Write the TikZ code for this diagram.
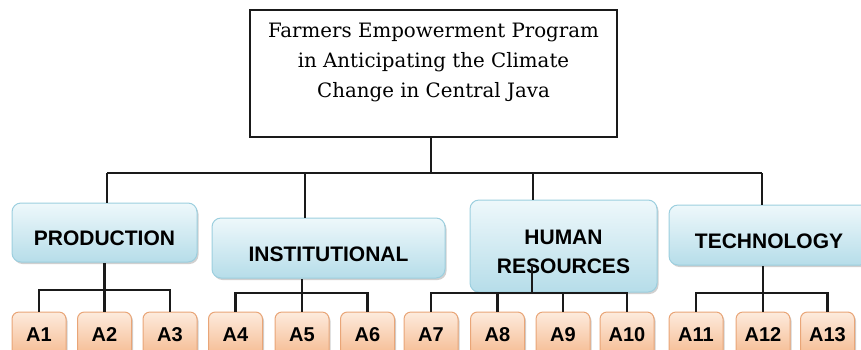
\documentclass[tikz,border=0pt]{standalone}
\usepackage{fontspec}
\setsansfont{Liberation Sans}
\newfontfamily\topfont{DejaVu Serif}
\usetikzlibrary{shadows,calc}
\definecolor{cattop}{HTML}{EEF8FB}
\definecolor{catbot}{HTML}{B6DDE9}
\definecolor{catdraw}{HTML}{9CCFDF}
\definecolor{leaftop}{HTML}{FDEBDD}
\definecolor{leafbot}{HTML}{F5B98E}
\definecolor{leafdraw}{HTML}{E9A577}
\definecolor{linec}{HTML}{1A1A1A}
\tikzset{
  topbox/.style={draw=linec, line width=1.2pt, fill=white, minimum width=367pt, minimum height=127pt, inner sep=0pt},
  toptext/.style={align=center, font=\topfont\fontsize{19.8}{30}\selectfont, inner sep=0pt},
  catbox/.style={draw=catdraw, line width=1pt, rounded corners=9pt, top color=cattop, bottom color=catbot,
     drop shadow={shadow xshift=1.5pt, shadow yshift=-2pt, opacity=0.3, fill=black!60},
     font=\sffamily\bfseries\fontsize{21}{29}\selectfont, align=center, inner sep=0pt},
  leafbox/.style={draw=leafdraw, line width=1pt, rounded corners=7pt, top color=leaftop, bottom color=leafbot,
     drop shadow={shadow xshift=1.5pt, shadow yshift=-2pt, opacity=0.3, fill=black!60},
     minimum width=54pt, minimum height=46pt, inner sep=0pt, font=\sffamily\bfseries\fontsize{20}{24}\selectfont},
  conn/.style={draw=linec, line width=2.5pt},
}
\newcommand{\onel}[1]{\smash{\raisebox{-13pt}{#1}}}
\begin{document}
\begin{tikzpicture}[x=1pt,y=-1pt]
\useasboundingbox (0,0) rectangle (861,349);
\clip (0,0) rectangle (861,349);
\fill[white] (0,0) rectangle (861,349);
% top box
\node[topbox] (top) at (433.5,73.5) {};
\node[toptext] (toptxt) at (433.5,62) {Farmers Empowerment Program\\in Anticipating the Climate\\Change in Central Java};
% categories
\node[catbox, minimum width=185pt, minimum height=59pt] (prod) at (104.5,232.5) {\onel{PRODUCTION}};
\node[catbox, minimum width=233pt, minimum height=60pt] (inst) at (328.5,248) {\onel{INSTITUTIONAL}};
\node[catbox, minimum width=187pt, minimum height=92pt] (hr) at (563.5,246) {\smash{\raisebox{-27pt}{\parbox[b]{180pt}{\centering HUMAN\\RESOURCES}}}};
\node[catbox, minimum width=200pt, minimum height=60pt] (tech) at (769,235) {\onel{TECHNOLOGY}};
% main bus
\coordinate (bus) at (431,173);
\coordinate (j1) at (107,173);
\coordinate (j2) at (305,173);
\coordinate (j3) at (533,173);
\coordinate (j4) at (762,173);
\draw[conn] (top.south -| bus) -- (bus);
\draw[conn] (j1) -- (j4);
\draw[conn] (j1) -- (j1 |- prod.north);
\draw[conn] (j2) -- (j2 |- inst.north);
\draw[conn] (j3) -- (j3 |- hr.north);
\draw[conn] (j4) -- (j4 |- tech.north);
% leaves
\foreach \n/\x in {1/39,2/104.5,3/170,4/235.5,5/302,6/367.5,7/431,8/497.5,9/563,10/627,11/696,12/763,13/827.5}{
  \node[leafbox] (a\n) at (\x,335) {A\n};
}
% production subtree
\draw[conn] (a1.north) |- (a3.north |- 0,290) -- (a3.north);
\draw[conn] (a2.north) -- (a2.north |- prod.south);
% institutional subtree
\draw[conn] (a4.north) |- (a6.north |- 0,293) -- (a6.north);
\draw[conn] (a5.north) -- (a5.north |- inst.south);
% human resources subtree
\coordinate (hrj) at (532,293);
\draw[conn] (a7.north) |- (a10.north |- hrj) -- (a10.north);
\draw[conn] (a8.north) -- (a8.north |- hrj);
\draw[conn] (a9.north) -- (a9.north |- hrj);
\draw[conn] (hrj) -- ++(0,-28);
% technology subtree
\draw[conn] (a11.north) |- (a13.north |- 0,293) -- (a13.north);
\draw[conn] (a12.north) -- (a12.north |- tech.south);
\end{tikzpicture}
\end{document}
